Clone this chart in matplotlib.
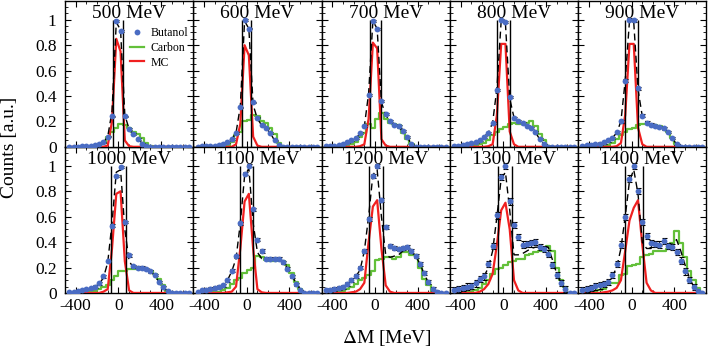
import matplotlib
matplotlib.use("Agg")
import matplotlib.pyplot as plt
from matplotlib.ticker import MultipleLocator, FormatStrFormatter

plt.rcParams["font.family"] = ["Liberation Serif", "DejaVu Serif"]
plt.rcParams["axes.unicode_minus"] = False
plt.rcParams["mathtext.fontset"] = "stix"

# beam energies of the ten panels
ENERGIES = [500, 600, 700, 800, 900, 1000, 1100, 1200, 1300, 1400]

# bin centres (MeV) of the missing-mass histograms
CENTERS = [-460, -420, -380, -340, -300, -260, -220, -180, -140, -100,
           -60, -20, 20, 60, 100, 140, 180, 220, 260, 300,
           340, 380, 420, 460, 500, 540, 580, 620, 660]

BUTANOL = [
    [0.0, 0.0, 0.0, 0.003, 0.005, 0.008, 0.016, 0.02, 0.035, 0.08, 0.24, 0.99, 0.91, 0.24, 0.14, 0.10, 0.06, 0.026, 0.005, 0, 0, 0, 0, 0, 0, 0, 0, 0, 0],
    [0.0, 0.003, 0.005, 0.007, 0.01, 0.015, 0.025, 0.04, 0.06, 0.11, 0.31, 1.0, 0.93, 0.35, 0.23, 0.175, 0.145, 0.11, 0.05, 0.015, 0, 0, 0, 0, 0, 0, 0, 0, 0],
    [0.005, 0.01, 0.01, 0.015, 0.02, 0.035, 0.05, 0.07, 0.105, 0.165, 0.405, 0.99, 0.93, 0.36, 0.26, 0.205, 0.175, 0.16, 0.125, 0.08, 0.02, 0, 0, 0, 0, 0, 0, 0, 0],
    [0.005, 0.01, 0.015, 0.02, 0.03, 0.04, 0.05, 0.08, 0.11, 0.19, 0.45, 1.0, 0.985, 0.39, 0.23, 0.205, 0.185, 0.165, 0.145, 0.115, 0.06, 0.02, 0, 0, 0, 0, 0, 0, 0],
    [0.01, 0.012, 0.015, 0.02, 0.025, 0.035, 0.05, 0.07, 0.115, 0.2, 0.52, 1.0, 0.995, 0.46, 0.245, 0.19, 0.175, 0.165, 0.155, 0.145, 0.115, 0.07, 0.02, 0, 0, 0, 0, 0, 0],
    [0.01, 0.01, 0.015, 0.02, 0.03, 0.04, 0.05, 0.075, 0.13, 0.25, 0.53, 0.92, 0.99, 0.56, 0.295, 0.21, 0.2, 0.2, 0.19, 0.17, 0.14, 0.085, 0.045, 0.013, 0, 0, 0, 0, 0],
    [0.01, 0.02, 0.025, 0.035, 0.04, 0.05, 0.06, 0.1, 0.175, 0.29, 0.55, 0.94, 1.0, 0.66, 0.42, 0.33, 0.27, 0.27, 0.27, 0.27, 0.24, 0.19, 0.13, 0.07, 0.02, 0, 0, 0, 0],
    [0.02, 0.025, 0.03, 0.04, 0.05, 0.07, 0.1, 0.135, 0.2, 0.33, 0.58, 0.92, 1.0, 0.73, 0.52, 0.37, 0.355, 0.345, 0.355, 0.365, 0.33, 0.29, 0.23, 0.155, 0.085, 0.03, 0.005, 0, 0],
    [0.025, 0.03, 0.037, 0.05, 0.055, 0.075, 0.11, 0.13, 0.23, 0.37, 0.61, 0.91, 1.0, 0.72, 0.535, 0.44, 0.38, 0.385, 0.39, 0.40, 0.36, 0.345, 0.31, 0.22, 0.14, 0.08, 0.03, 0.0, 0.0],
    [0.024, 0.03, 0.037, 0.052, 0.06, 0.07, 0.085, 0.14, 0.23, 0.38, 0.60, 0.90, 1.0, 0.8, 0.56, 0.45, 0.39, 0.385, 0.38, 0.41, 0.37, 0.36, 0.32, 0.255, 0.17, 0.1, 0.045, 0.013, 0.0],
]

# rough size of the butanol error bars in each panel
BUT_ERR = [0.006, 0.006, 0.008, 0.008, 0.01, 0.01, 0.012, 0.015, 0.025, 0.025]

CARBON = [
    [0, 0, 0, 0, 0, 0, 0.005, 0.01, 0.03, 0.08, 0.12, 0.15, 0.18, 0.17, 0.15, 0.12, 0.1, 0.07, 0.03, 0.005, 0, 0, 0, 0, 0, 0, 0, 0, 0],
    [0, 0, 0, 0, 0, 0.003, 0.005, 0.01, 0.04, 0.09, 0.12, 0.2, 0.21, 0.25, 0.24, 0.2, 0.19, 0.15, 0.1, 0.03, 0, 0, 0, 0, 0, 0, 0, 0, 0],
    [0, 0, 0, 0, 0, 0.005, 0.02, 0.04, 0.08, 0.11, 0.18, 0.15, 0.22, 0.27, 0.22, 0.19, 0.18, 0.175, 0.11, 0.06, 0.02, 0, 0, 0, 0, 0, 0, 0, 0],
    [0, 0, 0, 0, 0.005, 0.01, 0.02, 0.03, 0.05, 0.09, 0.12, 0.14, 0.155, 0.18, 0.19, 0.18, 0.18, 0.19, 0.2, 0.16, 0.1, 0.05, 0.01, 0, 0, 0, 0, 0, 0],
    [0, 0, 0, 0, 0, 0.005, 0.015, 0.03, 0.06, 0.09, 0.12, 0.14, 0.15, 0.175, 0.18, 0.18, 0.175, 0.17, 0.16, 0.15, 0.12, 0.07, 0.02, 0, 0, 0, 0, 0, 0],
    [0, 0, 0, 0, 0, 0.005, 0.015, 0.03, 0.05, 0.06, 0.1, 0.13, 0.17, 0.175, 0.185, 0.19, 0.19, 0.19, 0.185, 0.175, 0.15, 0.11, 0.065, 0.015, 0, 0, 0, 0, 0],
    [0, 0, 0, 0, 0.005, 0.01, 0.02, 0.04, 0.07, 0.1, 0.12, 0.16, 0.18, 0.2, 0.29, 0.28, 0.26, 0.255, 0.255, 0.26, 0.25, 0.22, 0.16, 0.09, 0.03, 0, 0, 0, 0],
    [0, 0, 0, 0.005, 0.015, 0.03, 0.05, 0.07, 0.1, 0.12, 0.14, 0.17, 0.26, 0.27, 0.28, 0.28, 0.27, 0.28, 0.32, 0.32, 0.3, 0.3, 0.2, 0.11, 0.06, 0, 0, 0, 0],
    [0, 0, 0, 0.005, 0.01, 0.02, 0.04, 0.07, 0.1, 0.15, 0.19, 0.2, 0.22, 0.24, 0.25, 0.27, 0.27, 0.3, 0.31, 0.32, 0.33, 0.34, 0.37, 0.33, 0.2, 0.1, 0.05, 0, 0],
    [0, 0.005, 0.01, 0.015, 0.02, 0.03, 0.07, 0.075, 0.08, 0.14, 0.15, 0.21, 0.22, 0.23, 0.28, 0.3, 0.31, 0.33, 0.33, 0.33, 0.345, 0.39, 0.49, 0.39, 0.28, 0.17, 0.1, 0.04, 0],
]

MC = [
    [0, 0, 0, 0, 0, 0, 0, 0, 0, 0.01, 0.2, 0.85, 0.75, 0.05, 0.005, 0, 0, 0, 0, 0, 0, 0, 0, 0, 0, 0, 0, 0, 0],
    [0, 0, 0, 0, 0, 0, 0, 0, 0, 0.02, 0.18, 0.8, 0.72, 0.08, 0.01, 0, 0, 0, 0, 0, 0, 0, 0, 0, 0, 0, 0, 0, 0],
    [0, 0, 0, 0, 0, 0, 0, 0, 0.005, 0.02, 0.22, 0.82, 0.775, 0.06, 0.01, 0, 0, 0, 0, 0, 0, 0, 0, 0, 0, 0, 0, 0, 0],
    [0, 0, 0, 0, 0, 0, 0, 0, 0.005, 0.02, 0.25, 0.81, 0.81, 0.12, 0.02, 0, 0, 0, 0, 0, 0, 0, 0, 0, 0, 0, 0, 0, 0],
    [0, 0, 0, 0, 0, 0, 0, 0, 0.005, 0.03, 0.25, 0.81, 0.81, 0.15, 0.02, 0, 0, 0, 0, 0, 0, 0, 0, 0, 0, 0, 0, 0, 0],
    [0, 0, 0, 0, 0, 0, 0, 0, 0.01, 0.03, 0.35, 0.78, 0.8, 0.25, 0.02, 0, 0, 0, 0, 0, 0, 0, 0, 0, 0, 0, 0, 0, 0],
    [0, 0, 0, 0, 0, 0, 0, 0.005, 0.01, 0.05, 0.35, 0.72, 0.78, 0.35, 0.03, 0.005, 0, 0, 0, 0, 0, 0, 0, 0, 0, 0, 0, 0, 0],
    [0, 0, 0, 0, 0, 0, 0.005, 0.01, 0.03, 0.08, 0.4, 0.68, 0.73, 0.35, 0.06, 0.01, 0, 0, 0, 0, 0, 0, 0, 0, 0, 0, 0, 0, 0],
    [0, 0, 0, 0, 0, 0, 0.01, 0.03, 0.07, 0.15, 0.38, 0.65, 0.71, 0.5, 0.1, 0.02, 0, 0, 0, 0, 0, 0, 0, 0, 0, 0, 0, 0, 0],
    [0, 0, 0, 0, 0, 0.005, 0.01, 0.02, 0.04, 0.1, 0.33, 0.57, 0.67, 0.73, 0.38, 0.08, 0.02, 0, 0, 0, 0, 0, 0, 0, 0, 0, 0, 0, 0],
]

FIT = [
    [0, 0, 0, 0.003, 0.005, 0.008, 0.015, 0.02, 0.035, 0.08, 0.28, 0.98, 0.92, 0.25, 0.14, 0.1, 0.065, 0.03, 0.008, 0, 0, 0, 0, 0, 0, 0, 0, 0, 0],
    [0, 0.003, 0.005, 0.007, 0.01, 0.015, 0.025, 0.04, 0.06, 0.11, 0.32, 0.99, 0.93, 0.33, 0.22, 0.17, 0.145, 0.11, 0.05, 0.015, 0, 0, 0, 0, 0, 0, 0, 0, 0],
    [0.005, 0.01, 0.01, 0.015, 0.02, 0.035, 0.05, 0.07, 0.1, 0.16, 0.42, 0.99, 0.93, 0.35, 0.25, 0.2, 0.175, 0.16, 0.12, 0.08, 0.02, 0, 0, 0, 0, 0, 0, 0, 0],
    [0.005, 0.01, 0.015, 0.02, 0.03, 0.04, 0.05, 0.08, 0.11, 0.19, 0.46, 0.99, 0.97, 0.38, 0.23, 0.2, 0.185, 0.165, 0.145, 0.115, 0.06, 0.02, 0, 0, 0, 0, 0, 0, 0],
    [0.01, 0.012, 0.015, 0.02, 0.025, 0.035, 0.05, 0.07, 0.11, 0.2, 0.52, 0.99, 0.98, 0.45, 0.24, 0.19, 0.175, 0.165, 0.155, 0.145, 0.115, 0.07, 0.02, 0, 0, 0, 0, 0, 0],
    [0.01, 0.01, 0.015, 0.02, 0.03, 0.04, 0.05, 0.07, 0.12, 0.24, 0.55, 0.95, 0.97, 0.5, 0.25, 0.2, 0.2, 0.2, 0.19, 0.17, 0.14, 0.085, 0.045, 0.013, 0, 0, 0, 0, 0],
    [0.01, 0.02, 0.025, 0.035, 0.04, 0.05, 0.06, 0.1, 0.17, 0.27, 0.55, 0.92, 0.98, 0.55, 0.32, 0.27, 0.26, 0.26, 0.26, 0.26, 0.24, 0.2, 0.14, 0.08, 0.03, 0, 0, 0, 0],
    [0.02, 0.025, 0.03, 0.04, 0.05, 0.07, 0.1, 0.13, 0.18, 0.33, 0.6, 0.93, 0.97, 0.6, 0.3, 0.28, 0.29, 0.3, 0.33, 0.34, 0.32, 0.29, 0.23, 0.15, 0.08, 0.03, 0.005, 0, 0],
    [0.025, 0.03, 0.037, 0.045, 0.055, 0.07, 0.1, 0.13, 0.2, 0.33, 0.6, 0.9, 0.95, 0.65, 0.3, 0.3, 0.31, 0.33, 0.35, 0.36, 0.36, 0.36, 0.36, 0.26, 0.15, 0.08, 0.03, 0, 0],
    [0.024, 0.03, 0.037, 0.05, 0.06, 0.07, 0.09, 0.13, 0.2, 0.35, 0.6, 0.88, 0.97, 0.78, 0.4, 0.35, 0.35, 0.36, 0.37, 0.37, 0.37, 0.38, 0.42, 0.33, 0.22, 0.12, 0.05, 0.01, 0],
]

# missing-mass cut window (MeV) drawn as vertical lines
CUT_LO = [-47, -42, -50, -55, -58, -67, -60, -59, -53, -62]
CUT_HI = [47, 42, 55, 60, 56, 67, 63, 72, 78, 103]
CUT_TOP = 1.0

BLUE = "#4a6cc3"
GREEN = "#63c03a"
RED = "#f02020"

fig, axes = plt.subplots(2, 5, figsize=(7.1, 3.5), dpi=100, sharex=True, sharey=True)
fig.subplots_adjust(left=0.0915, right=0.995, top=0.998, bottom=0.163, wspace=0, hspace=0)

for i, ax in enumerate(axes.flat):
    but = BUTANOL[i]
    err = [BUT_ERR[i] if v > 0.02 else 0 for v in but]

    ax.step(CENTERS, CARBON[i], where="mid", color=GREEN, lw=1.6, label="Carbon", zorder=2)
    ax.plot(CENTERS, MC[i], color=RED, lw=1.6, label="MC", zorder=3)
    ax.plot(CENTERS, FIT[i], color="black", lw=1.0, ls=(0, (5, 3)), zorder=4)
    ax.vlines([CUT_LO[i], CUT_HI[i]], 0, CUT_TOP, color="black", lw=1.0, zorder=4)
    ax.errorbar(CENTERS, but, yerr=err, fmt="none", ecolor="black", elinewidth=0.8,
                capsize=1.8, capthick=0.8, zorder=5)
    ax.plot(CENTERS, but, "o", color=BLUE, ms=4.2, mew=0, label="Butanol", zorder=6)

    ax.text(0.5, 0.915, f"{ENERGIES[i]} MeV", transform=ax.transAxes,
            ha="center", va="center", fontsize=14)

    ax.set_xlim(-500, 700)
    ax.set_ylim(0, 1.15)
    ax.xaxis.set_major_locator(MultipleLocator(400))
    ax.xaxis.set_minor_locator(MultipleLocator(100))
    ax.yaxis.set_major_locator(MultipleLocator(0.2))
    ax.yaxis.set_minor_locator(MultipleLocator(0.05))
    ax.yaxis.set_major_formatter(FormatStrFormatter("%g"))
    ax.tick_params(which="both", direction="in", top=True, right=True, labelsize=12.5)
    ax.tick_params(which="major", length=4, width=0.8)
    ax.tick_params(which="minor", length=2, width=0.6)
    ax.tick_params(axis="y", pad=6)
    for sp in ax.spines.values():
        sp.set_linewidth(1.0)

handles, labels = axes[0, 0].get_legend_handles_labels()
order = [labels.index(n) for n in ["Butanol", "Carbon", "MC"]]
axes[0, 0].set_zorder(10)
axes[0, 0].legend([handles[k] for k in order], ["Butanol", "Carbon", "MC"],
                  loc="upper left", bbox_to_anchor=(0.5, 0.83), frameon=False,
                  fontsize=8.5, handlelength=1.2, handletextpad=0.5,
                  labelspacing=0.25, borderpad=0.1, borderaxespad=0)

fig.text(0.014, 0.58, "Counts [a.u.]", rotation=90, ha="center", va="center", fontsize=14)
fig.text(0.545, 0.034, r"$\Delta$M [MeV]", ha="center", va="center", fontsize=14)

fig.savefig("out.png", dpi=100)
